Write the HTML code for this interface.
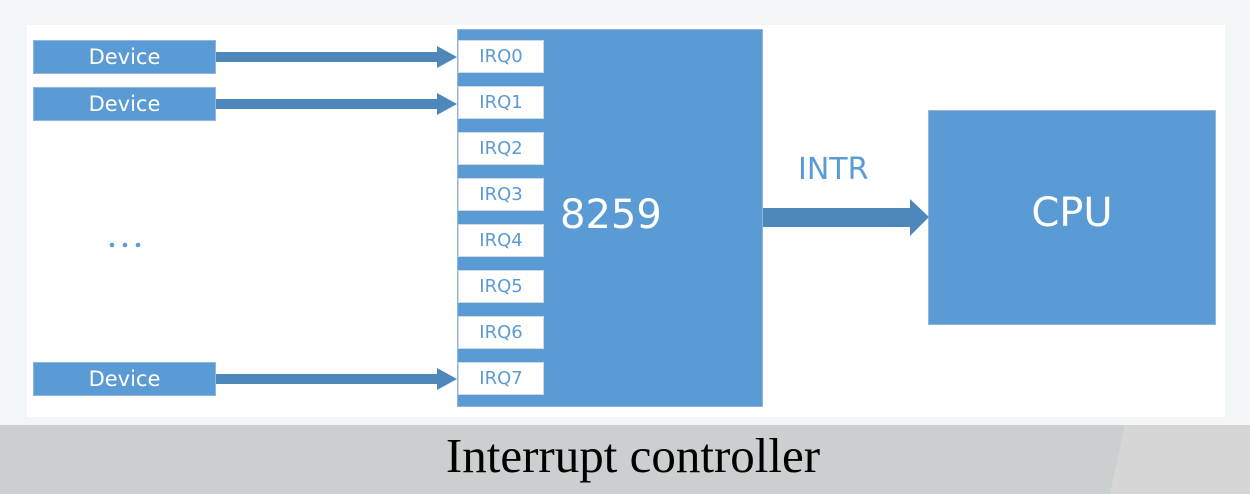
<!DOCTYPE html>
<html><head><style>
body{margin:0;width:1250px;height:494px;background:#f3f6f7;position:relative;overflow:hidden;font-family:"DejaVu Sans","Liberation Sans",sans-serif}
div{position:absolute;box-sizing:border-box}
.blue{background:#5b9bd5;border:1px solid #8fb6df}
.dev{left:33px;width:183px;height:34px;color:#fff;font-size:21px;text-align:center;line-height:32px}
.irq{left:458px;width:86px;height:33px;background:#fff;border:1px solid #d0d8e0;color:#5b9bd5;font-size:18px;text-align:center;line-height:31px}
</style></head><body>
<div style="left:27px;top:25px;width:1198px;height:392px;background:#fff"></div>
<div style="left:0;top:425px;width:1250px;height:69px;background:#cbcfd0"></div>
<div style="left:1110px;top:425px;width:140px;height:69px;background:#d6d6d6;clip-path:polygon(15px 0,140px 0,140px 69px,0 69px)"></div>
<div style="left:0;top:425px;width:1266px;height:69px;font-family:'Liberation Serif',serif;font-size:49px;text-align:center;line-height:62px;color:#000">Interrupt controller</div>

<div class="blue" style="left:457px;top:29px;width:306px;height:378px"></div>
<div style="left:560px;top:192px;color:#fff;font-size:40px">8259</div>
<div class="blue" style="left:928px;top:110px;width:288px;height:215px"></div>
<div style="left:928px;top:190px;width:288px;text-align:center;color:#fff;font-size:40px">CPU</div>

<div class="blue dev" style="top:40px">Device</div>
<div class="blue dev" style="top:87px">Device</div>
<div class="blue dev" style="top:362px">Device</div>

<div class="irq" style="top:40px">IRQ0</div>
<div class="irq" style="top:86px">IRQ1</div>
<div class="irq" style="top:132px">IRQ2</div>
<div class="irq" style="top:178px">IRQ3</div>
<div class="irq" style="top:224px">IRQ4</div>
<div class="irq" style="top:270px">IRQ5</div>
<div class="irq" style="top:316px">IRQ6</div>
<div class="irq" style="top:362px">IRQ7</div>

<svg style="position:absolute;left:0;top:0" width="1250" height="494">
<g fill="#5b9bd5"><circle cx="112" cy="245" r="2.3"/><circle cx="125" cy="245" r="2.3"/><circle cx="138" cy="245" r="2.3"/></g>
<g fill="#4e88bb">
<polygon points="216,52 437,52 437,46 457,57 437,68 437,62 216,62"/>
<polygon points="216,99 437,99 437,93 457,104 437,115 437,109 216,109"/>
<polygon points="216,374 437,374 437,368 457,379 437,390 437,384 216,384"/>
<polygon points="763,208 910,208 910,199 929,217 910,236 910,227 763,227"/>
</g>
</svg>
<div style="left:798px;top:152px;color:#5b9bd5;font-size:30px">INTR</div>
</body></html>
